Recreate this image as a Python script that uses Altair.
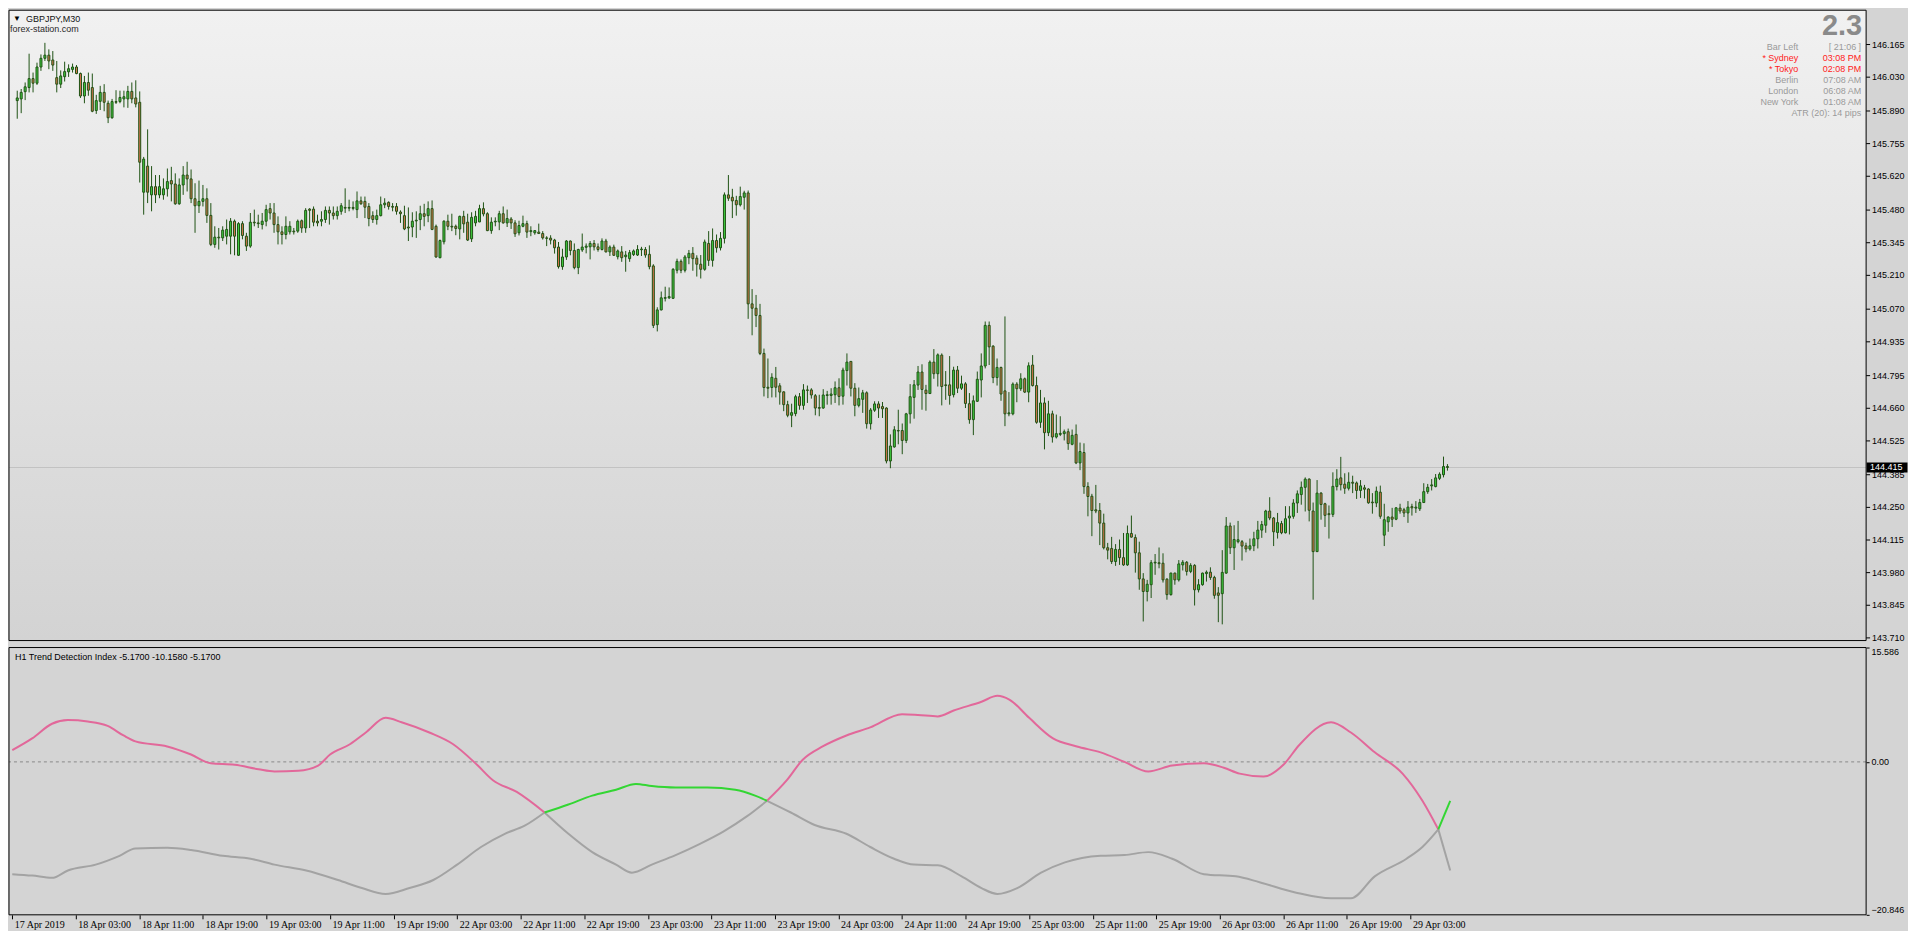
import altair as alt
import pandas as pd

# ---------------- price data (GBPJPY M30, bar index 0 = 17 Apr 2019 19:00) ----------------
open_ = [
    145.933, 145.940, 145.970, 145.987, 146.024, 146.005, 146.072, 146.108, 146.121, 146.101,
    146.028, 146.001, 146.032, 146.052, 146.062, 146.072, 146.045, 145.952, 146.008, 145.987,
    145.892, 145.930, 145.967, 145.922, 145.862, 145.929, 145.929, 145.940, 145.940, 145.971,
    145.944, 145.926, 145.554, 145.662, 145.543, 145.577, 145.543, 145.543, 145.568, 145.602,
    145.588, 145.506, 145.584, 145.625, 145.609, 145.527, 145.498, 145.516, 145.527, 145.458,
    145.338, 145.368, 145.365, 145.372, 145.372, 145.434, 145.293, 145.424, 145.372, 145.331,
    145.430, 145.427, 145.420, 145.434, 145.486, 145.468, 145.420, 145.390, 145.379, 145.390,
    145.393, 145.393, 145.436, 145.406, 145.484, 145.484, 145.434, 145.434, 145.441, 145.479,
    145.468, 145.457, 145.475, 145.491, 145.488, 145.491, 145.482, 145.518, 145.516, 145.495,
    145.457, 145.441, 145.457, 145.502, 145.512, 145.495, 145.495, 145.472, 145.457, 145.410,
    145.410, 145.435, 145.441, 145.465, 145.457, 145.486, 145.413, 145.283, 145.349, 145.434,
    145.413, 145.413, 145.402, 145.454, 145.430, 145.361, 145.427, 145.431, 145.486, 145.465,
    145.395, 145.431, 145.431, 145.465, 145.427, 145.443, 145.427, 145.386, 145.413, 145.424,
    145.391, 145.386, 145.389, 145.383, 145.365, 145.364, 145.356, 145.327, 145.246, 145.286,
    145.352, 145.313, 145.242, 145.315, 145.326, 145.328, 145.342, 145.328, 145.317, 145.352,
    145.307, 145.327, 145.287, 145.307, 145.287, 145.279, 145.296, 145.294, 145.316, 145.317,
    145.297, 145.249, 145.006, 145.067, 145.115, 145.117, 145.115, 145.231, 145.268, 145.231,
    145.283, 145.301, 145.281, 145.256, 145.235, 145.342, 145.272, 145.354, 145.324, 145.363,
    145.543, 145.533, 145.520, 145.502, 145.533, 145.551, 145.092, 145.074, 145.044, 144.887,
    144.747, 144.746, 144.784, 144.753, 144.728, 144.675, 144.631, 144.638, 144.708, 144.672,
    144.736, 144.736, 144.712, 144.663, 144.661, 144.713, 144.713, 144.716, 144.745, 144.710,
    144.816, 144.854, 144.743, 144.672, 144.697, 144.724, 144.596, 144.652, 144.678, 144.667,
    144.661, 144.442, 144.500, 144.568, 144.568, 144.527, 144.637, 144.705, 144.756, 144.810,
    144.735, 144.721, 144.851, 144.803, 144.880, 144.757, 144.757, 144.716, 144.818, 144.743,
    144.761, 144.679, 144.613, 144.689, 144.777, 144.835, 145.003, 144.917, 144.787, 144.829,
    144.732, 144.637, 144.637, 144.760, 144.741, 144.782, 144.727, 144.839, 144.754, 144.602,
    144.682, 144.559, 144.637, 144.541, 144.552, 144.555, 144.563, 144.511, 144.552, 144.434,
    144.477, 144.336, 144.296, 144.240, 144.237, 144.185, 144.083, 144.080, 144.026, 144.076,
    144.042, 144.012, 144.142, 144.125, 144.062, 143.954, 143.902, 143.930, 144.020, 144.021,
    144.019, 143.953, 143.889, 143.978, 143.950, 144.012, 144.023, 143.985, 144.010, 143.909,
    143.930, 143.976, 143.982, 143.960, 143.896, 143.893, 143.978, 144.173, 144.083, 144.108,
    144.108, 144.091, 144.078, 144.091, 144.120, 144.156, 144.176, 144.235, 144.206, 144.146,
    144.183, 144.145, 144.206, 144.213, 144.268, 144.303, 144.333, 144.367, 144.235, 144.067,
    144.309, 144.265, 144.224, 144.221, 144.336, 144.372, 144.346, 144.329, 144.354, 144.351,
    144.320, 144.331, 144.326, 144.272, 144.268, 144.313, 144.135, 144.190, 144.210, 144.201,
    144.247, 144.240, 144.227, 144.253, 144.247, 144.244, 144.270, 144.315, 144.339, 144.336,
    144.370, 144.385, 144.419,
]
high = [
    145.974, 145.981, 146.008, 146.127, 146.049, 146.090, 146.124, 146.172, 146.145, 146.138,
    146.097, 146.058, 146.094, 146.083, 146.086, 146.080, 146.049, 146.035, 146.049, 146.045,
    145.957, 145.994, 146.001, 145.933, 145.940, 145.976, 145.974, 145.974, 145.994, 146.008,
    146.017, 145.971, 145.700, 145.814, 145.662, 145.625, 145.625, 145.611, 145.652, 145.659,
    145.632, 145.611, 145.662, 145.680, 145.648, 145.591, 145.602, 145.584, 145.570, 145.509,
    145.413, 145.406, 145.413, 145.441, 145.447, 145.441, 145.430, 145.434, 145.386, 145.468,
    145.482, 145.461, 145.468, 145.502, 145.509, 145.509, 145.454, 145.413, 145.454, 145.434,
    145.406, 145.441, 145.441, 145.488, 145.488, 145.495, 145.461, 145.475, 145.495, 145.495,
    145.495, 145.495, 145.509, 145.570, 145.523, 145.516, 145.557, 145.536, 145.536, 145.509,
    145.475, 145.482, 145.536, 145.529, 145.516, 145.509, 145.509, 145.479, 145.498, 145.491,
    145.471, 145.475, 145.498, 145.506, 145.516, 145.520, 145.420, 145.358, 145.438, 145.461,
    145.465, 145.420, 145.457, 145.477, 145.465, 145.471, 145.477, 145.502, 145.512, 145.471,
    145.450, 145.450, 145.477, 145.495, 145.482, 145.451, 145.438, 145.436, 145.457, 145.436,
    145.413, 145.397, 145.424, 145.393, 145.372, 145.376, 145.361, 145.348, 145.320, 145.356,
    145.354, 145.342, 145.320, 145.383, 145.342, 145.352, 145.356, 145.342, 145.363, 145.361,
    145.334, 145.337, 145.317, 145.331, 145.311, 145.315, 145.317, 145.335, 145.328, 145.327,
    145.334, 145.256, 145.078, 145.143, 145.163, 145.160, 145.240, 145.279, 145.276, 145.294,
    145.315, 145.327, 145.293, 145.294, 145.358, 145.393, 145.404, 145.379, 145.389, 145.553,
    145.625, 145.568, 145.539, 145.577, 145.560, 145.561, 145.153, 145.129, 145.092, 144.907,
    144.866, 144.805, 144.831, 144.764, 144.730, 144.691, 144.679, 144.716, 144.723, 144.760,
    144.754, 144.743, 144.719, 144.716, 144.739, 144.732, 144.743, 144.771, 144.784, 144.828,
    144.887, 144.855, 144.764, 144.746, 144.736, 144.730, 144.661, 144.689, 144.689, 144.686,
    144.664, 144.552, 144.586, 144.654, 144.597, 144.641, 144.760, 144.777, 144.835, 144.842,
    144.757, 144.858, 144.905, 144.887, 144.887, 144.814, 144.876, 144.832, 144.835, 144.795,
    144.768, 144.723, 144.713, 144.812, 144.887, 145.019, 145.019, 144.921, 144.866, 144.832,
    145.040, 144.727, 144.767, 144.768, 144.805, 144.787, 144.850, 144.880, 144.791, 144.736,
    144.705, 144.691, 144.650, 144.634, 144.627, 144.572, 144.576, 144.572, 144.593, 144.518,
    144.515, 144.354, 144.306, 144.343, 144.268, 144.224, 144.103, 144.128, 144.098, 144.117,
    144.144, 144.175, 144.216, 144.138, 144.108, 143.978, 143.950, 144.032, 144.057, 144.084,
    144.060, 143.957, 143.980, 143.980, 144.032, 144.032, 144.028, 144.019, 144.015, 143.953,
    143.980, 143.989, 144.002, 143.967, 143.920, 144.073, 144.210, 144.187, 144.176, 144.194,
    144.115, 144.104, 144.121, 144.149, 144.194, 144.194, 144.240, 144.292, 144.210, 144.227,
    144.194, 144.255, 144.255, 144.284, 144.320, 144.357, 144.374, 144.370, 144.270, 144.363,
    144.313, 144.269, 144.258, 144.395, 144.408, 144.459, 144.391, 144.395, 144.381, 144.357,
    144.363, 144.343, 144.329, 144.309, 144.336, 144.340, 144.265, 144.213, 144.248, 144.251,
    144.265, 144.248, 144.276, 144.265, 144.276, 144.285, 144.350, 144.347, 144.367, 144.388,
    144.395, 144.460, 144.429,
]
low = [
    145.858, 145.881, 145.935, 145.967, 145.967, 145.998, 146.056, 146.097, 146.063, 146.056,
    145.967, 145.985, 146.012, 146.031, 146.049, 146.042, 145.944, 145.922, 145.953, 145.885,
    145.878, 145.894, 145.889, 145.840, 145.858, 145.919, 145.922, 145.905, 145.903, 145.922,
    145.905, 145.594, 145.461, 145.509, 145.475, 145.509, 145.529, 145.523, 145.536, 145.516,
    145.502, 145.502, 145.543, 145.557, 145.509, 145.386, 145.468, 145.495, 145.427, 145.331,
    145.324, 145.317, 145.352, 145.338, 145.297, 145.293, 145.290, 145.359, 145.311, 145.324,
    145.413, 145.406, 145.400, 145.413, 145.441, 145.386, 145.338, 145.338, 145.359, 145.379,
    145.379, 145.386, 145.386, 145.386, 145.406, 145.413, 145.413, 145.413, 145.427, 145.420,
    145.441, 145.441, 145.461, 145.468, 145.475, 145.479, 145.447, 145.502, 145.447, 145.413,
    145.427, 145.420, 145.454, 145.488, 145.482, 145.475, 145.461, 145.427, 145.397, 145.352,
    145.368, 145.365, 145.397, 145.413, 145.430, 145.397, 145.283, 145.281, 145.338, 145.397,
    145.393, 145.376, 145.359, 145.386, 145.352, 145.348, 145.413, 145.430, 145.454, 145.393,
    145.382, 145.413, 145.397, 145.424, 145.410, 145.402, 145.369, 145.375, 145.409, 145.365,
    145.372, 145.378, 145.382, 145.358, 145.331, 145.338, 145.300, 145.238, 145.233, 145.274,
    145.293, 145.235, 145.215, 145.307, 145.301, 145.276, 145.313, 145.308, 145.313, 145.305,
    145.290, 145.290, 145.276, 145.266, 145.225, 145.266, 145.290, 145.290, 145.290, 145.283,
    145.235, 144.992, 144.978, 145.065, 145.102, 145.112, 145.112, 145.218, 145.219, 145.222,
    145.256, 145.229, 145.205, 145.197, 145.229, 145.249, 145.246, 145.304, 145.313, 145.342,
    145.518, 145.447, 145.457, 145.495, 145.482, 145.030, 144.962, 144.996, 144.880, 144.709,
    144.702, 144.705, 144.705, 144.675, 144.648, 144.623, 144.582, 144.627, 144.654, 144.654,
    144.682, 144.700, 144.631, 144.627, 144.658, 144.675, 144.675, 144.682, 144.672, 144.675,
    144.754, 144.709, 144.627, 144.664, 144.641, 144.576, 144.572, 144.645, 144.620, 144.620,
    144.432, 144.412, 144.497, 144.511, 144.470, 144.516, 144.597, 144.617, 144.736, 144.654,
    144.650, 144.719, 144.782, 144.750, 144.672, 144.695, 144.675, 144.705, 144.723, 144.736,
    144.661, 144.596, 144.549, 144.686, 144.705, 144.825, 144.839, 144.764, 144.754, 144.691,
    144.586, 144.627, 144.631, 144.685, 144.732, 144.723, 144.685, 144.750, 144.596, 144.579,
    144.490, 144.545, 144.518, 144.535, 144.545, 144.527, 144.488, 144.507, 144.429, 144.404,
    144.306, 144.213, 144.131, 144.226, 144.094, 144.076, 144.035, 144.016, 144.008, 144.012,
    144.008, 144.008, 144.125, 143.980, 143.909, 143.778, 143.861, 143.875, 143.971, 143.998,
    143.939, 143.868, 143.885, 143.930, 143.943, 143.989, 143.968, 143.978, 143.844, 143.898,
    143.926, 143.943, 143.950, 143.872, 143.775, 143.766, 143.975, 144.057, 143.991, 144.101,
    144.030, 144.064, 144.071, 144.069, 144.080, 144.124, 144.145, 144.197, 144.090, 144.121,
    144.139, 144.142, 144.138, 144.203, 144.227, 144.261, 144.233, 144.192, 143.868, 144.065,
    144.199, 144.169, 144.121, 144.210, 144.320, 144.320, 144.306, 144.320, 144.309, 144.285,
    144.289, 144.287, 144.265, 144.224, 144.251, 144.203, 144.090, 144.149, 144.169, 144.197,
    144.224, 144.210, 144.186, 144.216, 144.227, 144.235, 144.268, 144.306, 144.320, 144.333,
    144.363, 144.374, 144.402,
]
close = [
    145.944, 145.967, 145.990, 146.024, 146.005, 146.072, 146.108, 146.121, 146.097, 146.080,
    146.001, 146.035, 146.053, 146.065, 146.072, 146.045, 145.952, 146.008, 145.976, 145.889,
    145.933, 145.967, 145.926, 145.862, 145.929, 145.926, 145.946, 145.949, 145.971, 145.940,
    145.919, 145.678, 145.691, 145.554, 145.577, 145.543, 145.577, 145.568, 145.598, 145.588,
    145.506, 145.584, 145.625, 145.609, 145.527, 145.498, 145.516, 145.527, 145.458, 145.338,
    145.368, 145.365, 145.397, 145.400, 145.434, 145.372, 145.424, 145.375, 145.331, 145.430,
    145.427, 145.424, 145.434, 145.482, 145.468, 145.420, 145.390, 145.379, 145.413, 145.413,
    145.390, 145.434, 145.406, 145.479, 145.479, 145.430, 145.427, 145.441, 145.479, 145.468,
    145.457, 145.475, 145.498, 145.488, 145.491, 145.487, 145.518, 145.506, 145.492, 145.445,
    145.441, 145.457, 145.502, 145.509, 145.495, 145.492, 145.475, 145.465, 145.402, 145.406,
    145.434, 145.438, 145.465, 145.454, 145.486, 145.400, 145.286, 145.354, 145.434, 145.413,
    145.410, 145.404, 145.454, 145.423, 145.356, 145.450, 145.454, 145.486, 145.464, 145.395,
    145.430, 145.434, 145.465, 145.427, 145.445, 145.427, 145.382, 145.416, 145.424, 145.389,
    145.395, 145.395, 145.383, 145.365, 145.363, 145.356, 145.324, 145.246, 145.286, 145.352,
    145.313, 145.242, 145.317, 145.327, 145.331, 145.342, 145.328, 145.317, 145.352, 145.307,
    145.327, 145.293, 145.311, 145.283, 145.294, 145.304, 145.311, 145.317, 145.319, 145.294,
    145.246, 145.003, 145.067, 145.117, 145.118, 145.122, 145.235, 145.268, 145.231, 145.286,
    145.301, 145.279, 145.256, 145.235, 145.348, 145.272, 145.354, 145.324, 145.363, 145.543,
    145.529, 145.518, 145.502, 145.536, 145.551, 145.092, 145.074, 145.044, 144.887, 144.746,
    144.743, 144.788, 144.747, 144.727, 144.675, 144.631, 144.642, 144.708, 144.672, 144.736,
    144.734, 144.715, 144.661, 144.660, 144.715, 144.716, 144.719, 144.745, 144.709, 144.818,
    144.851, 144.743, 144.672, 144.700, 144.724, 144.596, 144.653, 144.678, 144.661, 144.658,
    144.442, 144.504, 144.571, 144.566, 144.527, 144.637, 144.708, 144.757, 144.810, 144.738,
    144.721, 144.851, 144.803, 144.881, 144.750, 144.754, 144.713, 144.818, 144.743, 144.761,
    144.680, 144.613, 144.691, 144.780, 144.835, 145.003, 144.914, 144.787, 144.829, 144.719,
    144.637, 144.641, 144.760, 144.741, 144.782, 144.727, 144.836, 144.754, 144.602, 144.682,
    144.559, 144.637, 144.541, 144.555, 144.556, 144.563, 144.514, 144.548, 144.434, 144.481,
    144.336, 144.295, 144.237, 144.235, 144.185, 144.083, 144.073, 144.026, 144.076, 144.042,
    144.012, 144.142, 144.127, 144.062, 143.954, 143.902, 143.932, 144.021, 144.023, 144.017,
    143.950, 143.889, 143.978, 143.950, 144.016, 144.023, 143.985, 144.010, 143.909, 143.930,
    143.978, 143.982, 143.960, 143.886, 143.886, 143.981, 144.173, 144.083, 144.117, 144.116,
    144.090, 144.078, 144.091, 144.120, 144.156, 144.179, 144.235, 144.206, 144.149, 144.187,
    144.145, 144.203, 144.214, 144.268, 144.306, 144.333, 144.367, 144.238, 144.067, 144.309,
    144.262, 144.217, 144.220, 144.337, 144.367, 144.344, 144.329, 144.354, 144.350, 144.320,
    144.339, 144.325, 144.269, 144.269, 144.317, 144.213, 144.199, 144.210, 144.201, 144.248,
    144.235, 144.227, 144.251, 144.248, 144.251, 144.270, 144.315, 144.333, 144.343, 144.372,
    144.387, 144.419, 144.415,
]

x_labels = ["17 Apr 2019", "18 Apr 03:00", "18 Apr 11:00", "18 Apr 19:00", "19 Apr 03:00",
            "19 Apr 11:00", "19 Apr 19:00", "22 Apr 03:00", "22 Apr 11:00", "22 Apr 19:00",
            "23 Apr 03:00", "23 Apr 11:00", "23 Apr 19:00", "24 Apr 03:00", "24 Apr 11:00",
            "24 Apr 19:00", "25 Apr 03:00", "25 Apr 11:00", "25 Apr 19:00", "26 Apr 03:00",
            "26 Apr 11:00", "26 Apr 19:00", "29 Apr 03:00"]
price_ticks = [146.165, 146.030, 145.890, 145.755, 145.620, 145.480, 145.345, 145.210, 145.070,
               144.935, 144.795, 144.660, 144.525, 144.385, 144.250, 144.115, 143.980, 143.845,
               143.710]

# ---------------- H1 Trend Detection Index (sampled) ----------------
tdi_idx = [0, 5, 10, 14, 19, 24, 28, 31, 39, 45, 50, 56, 62, 66, 72, 77, 80, 85, 89, 94,
           98, 105, 111, 117, 121, 127, 134, 140, 146, 152, 156, 161, 167, 173, 179, 185, 190, 195, 199, 204,
           210, 216, 224, 228, 233, 237, 244, 248, 251, 256, 262, 268, 274, 280, 286, 292, 300, 305, 309, 315,
           320, 324, 332, 337, 343, 350, 355, 359, 362]
tdi_val = [1.6, 3.2, 5.2, 5.7, 5.5, 4.9, 3.6, 2.8, 2.1, 1.0, -0.2, -0.4, -1.0, -1.3, -1.2, -0.5, 1.0, 2.4, 4.0, 6.0,
           5.4, 4.0, 2.4, -0.4, -2.5, -4.1, -6.9, -9.8, -12.3, -14.0, -15.1, -14.0, -12.7, -11.2, -9.5, -7.4, -5.3, -2.5, 0.3, 2.1,
           3.6, 4.7, 6.5, 6.4, 6.2, 7.0, 8.2, 9.0, 8.5, 6.0, 3.2, 2.1, 1.3, 0.0, -1.3, -0.5, -0.2, -0.8, -1.6, -2.0,
           -0.4, 2.3, 5.4, 4.0, 1.3, -1.6, -5.3, -9.2, -14.8]
sig_idx = [0, 5, 10, 14, 21, 27, 31, 39, 45, 53, 60, 66, 74, 82, 88, 94, 100, 106, 112, 118,
           124, 129, 134, 140, 146, 152, 157, 161, 167, 175, 182, 187, 190, 196, 202, 210, 216, 222, 227, 233,
           239, 244, 248, 253, 259, 265, 274, 280, 286, 292, 300, 308, 314, 323, 332, 337, 343, 351, 355, 359, 362]
sig_val = [-15.3, -15.5, -15.8, -14.8, -14.0, -12.8, -11.8, -11.7, -12.0, -12.8, -13.2, -14.0, -14.8, -16.1, -17.2, -18.0, -17.2, -16.1, -14.0, -11.6,
           -9.8, -8.7, -6.9, -5.8, -4.6, -3.8, -3.0, -3.3, -3.5, -3.5, -3.8, -4.6, -5.3, -6.9, -8.6, -9.8, -11.6, -13.2, -14.0, -14.1,
           -15.6, -17.2, -18.0, -17.2, -15.1, -13.7, -12.8, -12.7, -12.3, -13.2, -15.3, -15.6, -16.4, -17.8, -18.6, -18.6, -15.6, -13.2, -11.6, -9.2,
           -5.3]
cross_bars = [134, 190, 359]
ind_ticks = [15.586, 0.0, -20.846]

info_labels = ["Bar Left", "* Sydney", "* Tokyo", "Berlin", "London", "New York"]
info_values = ["[ 21:06 ]", "03:08 PM", "02:08 PM", "07:08 AM", "06:08 AM", "01:08 AM"]
info_colors = ["#9A9A9A", "#FF1A1A", "#FF1A1A", "#9A9A9A", "#9A9A9A", "#9A9A9A"]
atr_text = "ATR (20): 14 pips"
big_text = "2.3"
symbol_text = "GBPJPY,M30"
site_text = "forex-station.com"
ind_title = "H1 Trend Detection Index -5.1700 -10.1580 -5.1700"

# ---------------- styling ----------------
W, H1, H2 = 1862, 632, 268
XDOM = [-0.825, 466.7]
FONT = "Liberation Sans"
OUT = "#1F5214"
BULL = "#3FCB3F"
BEAR = "#D4744C"
PINK = "#E2689A"
GREEN = "#33D633"
GRAY = "#A3A3A3"

xs = alt.Scale(domain=XDOM, nice=False, zero=False)
ys = alt.Scale(domain=[143.699, 146.307], nice=False, zero=False)
iys = alt.Scale(domain=[-20.846, 15.586], nice=False, zero=False)

n = len(close)
df = pd.DataFrame({"idx": list(range(n)), "open": open_, "high": high, "low": low, "close": close})
df["dir"] = ["up" if c >= o else "down" for o, c in zip(open_, close)]

one = alt.Data(values=[{}])


def label(text, x, y, **kw):
    return alt.Chart(one).mark_text(text=text, font=kw.pop("font", FONT), **kw).encode(
        x=alt.value(x), y=alt.value(y))


bg = alt.Chart(one).mark_rect(
    fill=alt.LinearGradient(gradient="linear", x1=0, x2=0, y1=0, y2=1,
                            stops=[alt.GradientStop(color="#F1F1F1", offset=0),
                                   alt.GradientStop(color="#D3D3D3", offset=1)])
).encode(x=alt.value(0), x2=alt.value(W), y=alt.value(0), y2=alt.value(H1))

last = pd.DataFrame({"p": [close[-1]]})
pline = alt.Chart(last).mark_rule(color="#C2C2C2", strokeWidth=1).encode(
    y=alt.Y("p:Q", scale=ys, axis=None))

wicks = alt.Chart(df).mark_rule(color=OUT, strokeWidth=1).encode(
    x=alt.X("idx:Q", scale=xs, axis=None),
    y=alt.Y("low:Q", scale=ys, axis=None),
    y2="high:Q",
)
bodies = alt.Chart(df).mark_bar(size=2, stroke=OUT, strokeWidth=1).encode(
    x=alt.X("idx:Q", scale=xs, axis=None),
    y=alt.Y("open:Q", scale=ys, axis=None),
    y2="close:Q",
    fill=alt.Fill("dir:N", scale=alt.Scale(domain=["up", "down"], range=[BULL, BEAR]), legend=None),
)

# right price scale drawn from the tick list
tick_df = pd.DataFrame({"p": price_ticks})
ptick = alt.Chart(tick_df).mark_rule(color="black", strokeWidth=1, clip=False).encode(
    x=alt.value(W), x2=alt.value(W + 4), y=alt.Y("p:Q", scale=ys, axis=None))
plabel = alt.Chart(tick_df).mark_text(align="left", baseline="middle", color="black", font=FONT,
                                      fontSize=9, clip=False).encode(
    x=alt.value(W + 6), y=alt.Y("p:Q", scale=ys, axis=None), text=alt.Text("p:Q", format=".3f"))

box = alt.Chart(last).mark_point(
    shape="M-1,-0.244L1,-0.244L1,0.244L-1,0.244Z", size=41 * 41, filled=True,
    color="black", opacity=1, clip=False
).encode(x=alt.value(W + 21), y=alt.Y("p:Q", scale=ys, axis=None))
box_txt = alt.Chart(last).mark_text(align="left", baseline="middle", color="white", font=FONT,
                                    fontSize=9, clip=False).encode(
    x=alt.value(W + 4), y=alt.Y("p:Q", scale=ys, axis=None), text=alt.Text("p:Q", format=".3f"))

border1 = alt.Chart(one).mark_rect(fillOpacity=0, stroke="black", strokeWidth=1).encode(
    x=alt.value(0), x2=alt.value(W), y=alt.value(0), y2=alt.value(H1))

texts = [
    label("▼", 8, 9, fontSize=8, align="center", baseline="middle", color="black"),
    label(symbol_text, 17, 9, fontSize=9, align="left", baseline="middle", color="#101010"),
    label(site_text, 1, 19, fontSize=9, align="left", baseline="middle", color="#2A2A2A"),
    label(big_text, W - 4, 16, fontSize=29, fontWeight="bold", align="right", baseline="middle",
          color="#8A8A8A"),
]
for k, (a, b, c) in enumerate(zip(info_labels, info_values, info_colors)):
    yy = 37 + 11 * k
    texts.append(label(a, W - 68, yy, fontSize=9, align="right", baseline="middle", color=c))
    texts.append(label(b, W - 5, yy, fontSize=9, align="right", baseline="middle", color=c))
texts.append(label(atr_text, W - 5, 37 + 11 * len(info_labels), fontSize=9, align="right",
                   baseline="middle", color="#9A9A9A"))

main = alt.layer(bg, pline, wicks, bodies, ptick, plabel, box, box_txt, border1, *texts).properties(
    width=W, height=H1)

# ---------------- indicator panel ----------------
bounds = [-1e9] + cross_bars + [1e9]
rows = []
for name, idxs, vals, ups, col in [("tdi", tdi_idx, tdi_val, {0, 2}, PINK),
                                    ("sig", sig_idx, sig_val, {1, 3}, GREEN)]:
    for k in range(len(bounds) - 1):
        for i, v in zip(idxs, vals):
            if bounds[k] <= i <= bounds[k + 1]:
                rows.append({"idx": i, "val": v, "seg": f"{name}{k}",
                             "col": col if k in ups else GRAY, "top": 1 if k in ups else 0})
ldf = pd.DataFrame(rows)

label_expr = "[" + ",".join(f"'{s}'" for s in x_labels) + "][round(datum.value/16)]"
xaxis = alt.Axis(values=list(range(0, 16 * len(x_labels), 16)), labelExpr=label_expr,
                 labelAlign="left", labelBaseline="top", tickSize=4, tickColor="black",
                 labelOffset=2, labelPadding=1, domain=False, grid=False,
                 labelFont="Liberation Sans Narrow", labelFontSize=10, labelColor="black",
                 labelOverlap=False, labelBound=False, labelFlush=False)
ind_axis = alt.Axis(orient="right", values=ind_ticks, tickSize=3, tickColor="black",
                    labelExpr="datum.value == 0 ? '0.00' : format(datum.value, '.3f')",
                    domain=False, grid=False, labelFont=FONT, labelFontSize=9,
                    labelColor="black", labelPadding=2, labelFlush=True, labelOverlap=False)

zero = alt.Chart(pd.DataFrame({"v": [0.0]})).mark_rule(color="#8A8A8A", strokeDash=[3, 3]).encode(
    y=alt.Y("v:Q", scale=iys, axis=ind_axis, title=None))
gray_lines = alt.Chart(ldf).transform_filter("datum.top == 0").mark_line(
    strokeWidth=2, interpolate="monotone").encode(
    x=alt.X("idx:Q", scale=xs, axis=xaxis, title=None),
    y=alt.Y("val:Q", scale=iys, title=None, axis=ind_axis),
    detail="seg:N", order="idx:Q", color=alt.Color("col:N", scale=None),
)
col_lines = alt.Chart(ldf).transform_filter("datum.top == 1").mark_line(
    strokeWidth=2, interpolate="monotone").encode(
    x=alt.X("idx:Q", scale=xs, axis=xaxis, title=None),
    y=alt.Y("val:Q", scale=iys, title=None, axis=ind_axis),
    detail="seg:N", order="idx:Q", color=alt.Color("col:N", scale=None),
)
border2 = alt.Chart(one).mark_rect(fillOpacity=0, stroke="black", strokeWidth=1).encode(
    x=alt.value(0), x2=alt.value(W), y=alt.value(0), y2=alt.value(H2))
ind_lbl = label(ind_title, 6, 10, fontSize=9, align="left", baseline="middle", color="black")

ind = alt.layer(zero, gray_lines, col_lines, border2, ind_lbl).properties(width=W, height=H2)

chart = alt.vconcat(main, ind, spacing=3).properties(
    padding=0, background="#D4D4D4"
).configure_view(strokeWidth=0).configure_axis(labelOverlap=False)

chart.save("out.html", embed_options={"renderer": "svg", "actions": False})
